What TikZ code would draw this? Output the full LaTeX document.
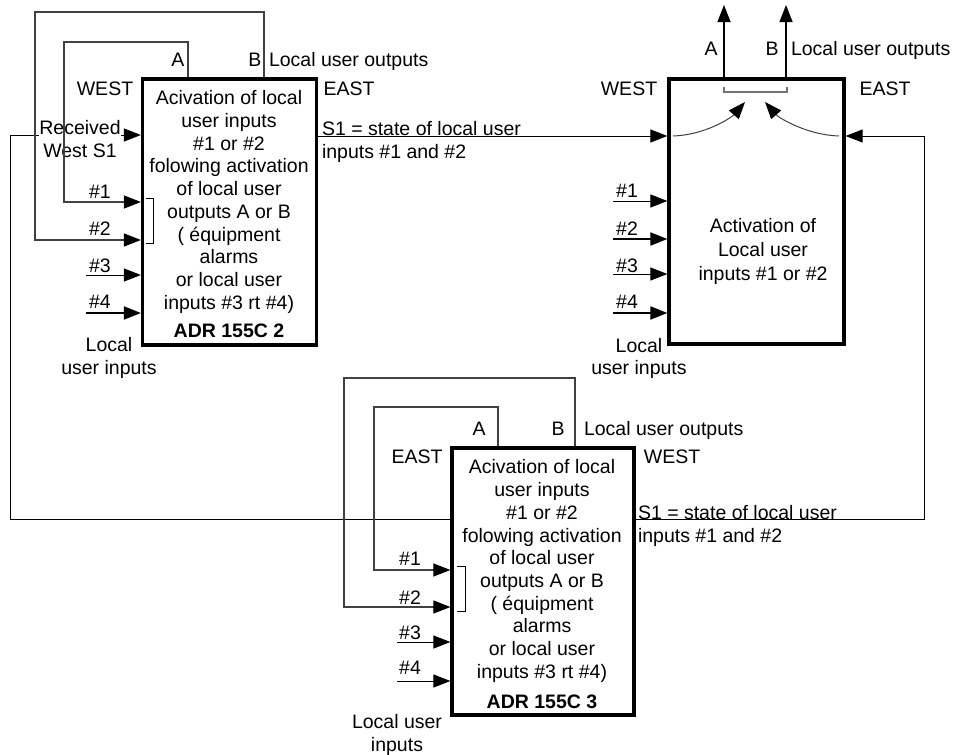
\documentclass[tikz,border=0pt]{standalone}
\usepackage{fontspec}
\setmainfont{Liberation Sans}
\usetikzlibrary{arrows.meta}
\begin{document}
\begin{tikzpicture}[x=1pt,y=-1pt,
  every node/.style={inner sep=0pt, outer sep=0pt},
  ft/.style={font=\fontsize{19.5}{22.7}\selectfont},
  lbl/.style={ft, text height=14pt, text depth=0pt},
  blbl/.style={font=\fontsize{19.5}{22.7}\selectfont\bfseries, text height=14pt, text depth=0pt},
  mlbl/.style={ft, align=center},
  boxn/.style={draw, line width=3.2pt, outer sep=1.6pt},
  wire/.style={line width=1pt},
  loopw/.style={line width=1.1pt, draw=black!75},
  fat/.style={line width=2pt},
  arr/.style={-{Triangle[length=17pt,width=13pt,color=black,fill=black]}},
]
\useasboundingbox (0,0) rectangle (956,755);

% ---------- boxes ----------
\node[boxn, minimum width=174pt, minimum height=266pt] (b1) at (229.5,212) {};
\node[boxn, minimum width=175pt, minimum height=265pt] (b2) at (756.5,211.5) {};
\node[boxn, minimum width=182pt, minimum height=267pt] (b3) at (543,581.5) {};

% ---------- long connectors ----------
\coordinate (s1) at (0,136);
\draw[wire,arr] (b1.east |- s1) -- (b2.west |- s1);
\coordinate (L1) at (10,519);
\coordinate (L2) at (10,135);
\draw[wire,arr] (b3.west |- L1) -- (L1) -- (L2) -- (L2 -| b1.west);
\coordinate (R1) at (924,519);
\coordinate (R2) at (924,136);
\draw[wire,arr] (b3.east |- R1) -- (R1) -- (R2) -- (R2 -| b2.east);

% ---------- box 1 ----------
\node[mlbl, fill=white] (rcv) at (80,139) {Received\\West S1};
\coordinate (b1Bt) at (264,12);
\coordinate (b1Bl) at (35,12);
\coordinate (b1i2) at (35,240);
\draw[loopw,arr] (b1.north -| b1Bt) -- (b1Bt) -- (b1Bl) -- (b1i2) -- (b1i2 -| b1.west);
\coordinate (b1At) at (188,42);
\coordinate (b1Al) at (64,42);
\coordinate (b1i1) at (64,202);
\draw[loopw,arr] (b1.north -| b1At) -- (b1At) -- (b1Al) -- (b1i1) -- (b1i1 -| b1.west);
\coordinate (b1i3) at (86,275);
\draw[wire,arr] (b1i3) -- (b1i3 -| b1.west);
\coordinate (b1i4) at (86,313);
\draw[fat,arr] (b1i4) -- (b1i4 -| b1.west);
\draw[wire] (146,198) -- (153,198) -- (153,243) -- (146,243);

\node[lbl] (b1A) at (178,59) {A};
\node[lbl] (b1B) at (255,59) {B};
\node[lbl, anchor=west] (b1out) at (269,59) {Local user outputs};
\node[lbl] (b1W) at (105,88) {WEST};
\node[lbl] (b1E) at (349,88) {EAST};
\node[mlbl] (b1t) at (229,202) {Acivation of local\\user inputs\\\#1 or \#2\\folowing activation\\of local user\\outputs A or B\\( équipment\\alarms\\or local user\\inputs \#3 rt \#4)};
\node[blbl] (b1n) at (229,330) {ADR 155C 2};
\node[lbl] (b1n1) at (100,191) {\#1};
\node[lbl] (b1n2) at (100,228) {\#2};
\node[lbl] (b1n3) at (100,265) {\#3};
\node[lbl] (b1n4) at (100,301) {\#4};
\node[mlbl] (b1loc) at (109,358) {Local\\user inputs};
\node[mlbl, align=left, anchor=west] (b1s1) at (322,142) {S1 = state of local user\\inputs \#1 and \#2};

% ---------- box 2 ----------
\coordinate (b2oA) at (724,5);
\coordinate (b2oB) at (786,5);
\draw[line width=1.4pt,arr] (b2.north -| b2oA) -- (b2oA);
\draw[line width=1.4pt,arr] (b2.north -| b2oB) -- (b2oB);
\draw[black!55, line width=1.2pt] (724,87) -- (724,92) -- (787,92) -- (787,87);
\draw[line width=1pt, black!75, arr] (673,136) .. controls (705,135) and (731,118) .. (745,102);
\draw[line width=1pt, black!75, arr] (839,136) .. controls (807,135) and (779,118) .. (765,102);
\coordinate (b2i1) at (613,201);
\coordinate (b2i2) at (613,239);
\coordinate (b2i3) at (613,274);
\coordinate (b2i4) at (613,313);
\draw[wire,arr] (b2i1) -- (b2i1 -| b2.west);
\draw[fat,arr] (b2i2) -- (b2i2 -| b2.west);
\draw[wire,arr] (b2i3) -- (b2i3 -| b2.west);
\draw[fat,arr] (b2i4) -- (b2i4 -| b2.west);

\node[lbl] (b2A) at (711,48) {A};
\node[lbl] (b2B) at (772,48) {B};
\node[lbl, anchor=west] (b2out) at (791,48) {Local user outputs};
\node[lbl] (b2W) at (629,88) {WEST};
\node[lbl] (b2E) at (885,88) {EAST};
\node[mlbl, font=\fontsize{19.5}{24.3}\selectfont] (b2t) at (763,251.5) {Activation of\\Local user\\inputs \#1 or \#2};
\node[lbl] (b2n1) at (627,190) {\#1};
\node[lbl] (b2n2) at (627,228) {\#2};
\node[lbl] (b2n3) at (627,265) {\#3};
\node[lbl] (b2n4) at (627,301) {\#4};
\node[mlbl] (b2loc) at (639,358.5) {Local\\user inputs};

% ---------- box 3 ----------
\coordinate (b3Bt) at (575,378);
\coordinate (b3Bl) at (344,378);
\coordinate (b3i2) at (344,607);
\draw[loopw,arr] (b3.north -| b3Bt) -- (b3Bt) -- (b3Bl) -- (b3i2) -- (b3i2 -| b3.west);
\coordinate (b3At) at (498,407);
\coordinate (b3Al) at (374,407);
\coordinate (b3i1) at (374,570);
\draw[loopw,arr] (b3.north -| b3At) -- (b3At) -- (b3Al) -- (b3i1) -- (b3i1 -| b3.west);
\coordinate (b3i3) at (397,642);
\draw[wire,arr] (b3i3) -- (b3i3 -| b3.west);
\coordinate (b3i4) at (397,681);
\draw[wire,arr] (b3i4) -- (b3i4 -| b3.west);
\draw[wire] (457,566) -- (465,566) -- (465,611) -- (457,611);

\node[lbl] (b3A) at (479,428) {A};
\node[lbl] (b3B) at (558,428) {B};
\node[lbl, anchor=west] (b3out) at (584,428) {Local user outputs};
\node[lbl] (b3E) at (417,456) {EAST};
\node[lbl] (b3W) at (672,456) {WEST};
\node[mlbl] (b3t) at (542,571) {Acivation of local\\user inputs\\\#1 or \#2\\folowing activation\\of local user\\outputs A or B\\( équipment\\alarms\\or local user\\inputs \#3 rt \#4)};
\node[blbl] (b3n) at (542,701) {ADR 155C 3};
\node[lbl] (b3n1) at (410,558) {\#1};
\node[lbl] (b3n2) at (410,597) {\#2};
\node[lbl] (b3n3) at (410,632) {\#3};
\node[lbl] (b3n4) at (410,667) {\#4};
\node[mlbl] (b3loc) at (397,735) {Local user\\inputs};
\node[mlbl, align=left, anchor=west] (b3s1) at (638,526) {S1 = state of local user\\inputs \#1 and \#2};
\end{tikzpicture}
\end{document}
